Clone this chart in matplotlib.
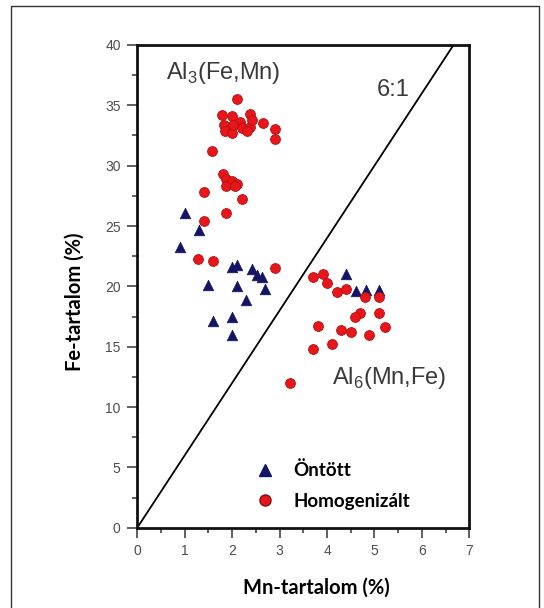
import matplotlib
matplotlib.use("Agg")
import matplotlib.pyplot as plt
from matplotlib.lines import Line2D
from matplotlib.ticker import MultipleLocator

# Öntött (as-cast) minták: Mn és Fe tartalom, %
ontott_mn = [1.01, 1.30, 0.90, 1.50, 1.99, 2.10, 2.41, 2.52, 2.62, 2.10,
             2.69, 2.29, 1.60, 2.00, 2.00, 4.41, 4.61, 4.82, 5.10]
ontott_fe = [26.1, 24.7, 23.3, 20.1, 21.6, 21.8, 21.4, 20.9, 20.8, 20.0,
             19.8, 18.9, 17.1, 17.5, 16.0, 21.0, 19.6, 19.7, 19.7]

# Homogenizált minták
homog_mn = [2.10, 1.78, 1.99, 2.38, 2.66, 2.90, 2.90, 1.83, 1.85, 1.99,
            2.17, 2.20, 2.38, 2.41, 2.02, 2.31, 1.57,
            1.80, 1.88, 1.99, 2.10, 1.87, 2.05, 2.20, 1.41, 1.88, 1.41,
            1.29, 1.60, 2.90,
            3.70, 3.91, 4.01, 4.20, 4.40, 4.80, 5.10, 4.70, 4.59, 5.10,
            3.80, 4.29, 4.50, 4.89, 5.22, 4.10, 3.70, 3.22]
homog_fe = [35.5, 34.2, 34.1, 34.3, 33.5, 33.0, 32.2, 33.4, 32.9, 32.7,
            33.6, 33.1, 33.2, 33.8, 33.4, 32.9, 31.2,
            29.3, 28.9, 28.7, 28.5, 28.3, 28.3, 27.2, 27.8, 26.1, 25.4,
            22.3, 22.1, 21.5,
            20.8, 21.0, 20.3, 19.5, 19.8, 19.1, 19.1, 17.8, 17.5, 17.8,
            16.7, 16.4, 16.2, 16.0, 16.6, 15.2, 14.8, 12.0]

# 6:1 Fe/Mn arány határvonala
ratio = 6.0
ratio_mn = [0.0, 40.0 / ratio]

TEXT_GRAY = "#3a3a3a"
TICK_GRAY = "#4d4d4d"
NAVY = "#141464"
RED = "#e8161a"

plt.rcParams["mathtext.fontset"] = "custom"
plt.rcParams["mathtext.rm"] = "Liberation Sans"

fig = plt.figure(figsize=(5.44, 6.08), dpi=100)
ax = fig.add_axes([0.2524, 0.1321, 0.6103, 0.7939])

ax.plot(ratio_mn, [ratio * v for v in ratio_mn], color="black", lw=1.3, zorder=2)

ax.scatter(ontott_mn, ontott_fe, marker="^", s=58, color=NAVY,
           edgecolors=NAVY, linewidths=0.5, zorder=3)
ax.scatter(homog_mn, homog_fe, marker="o", s=50, color=RED,
           edgecolors="#b01010", linewidths=0.6, zorder=4)

ax.set_xlim(0, 7)
ax.set_ylim(0, 40)
ax.xaxis.set_major_locator(MultipleLocator(1))
ax.xaxis.set_minor_locator(MultipleLocator(0.5))
ax.yaxis.set_major_locator(MultipleLocator(5))
ax.yaxis.set_minor_locator(MultipleLocator(2.5))
ax.tick_params(which="both", direction="out", color="#444444", width=1.2,
               top=False, right=False)
ax.tick_params(which="major", length=7, pad=5, labelsize=10,
               labelcolor=TICK_GRAY)
ax.tick_params(which="minor", length=3.5)
for lbl in ax.get_xticklabels() + ax.get_yticklabels():
    lbl.set_fontfamily("Liberation Sans")
for spine in ax.spines.values():
    spine.set_linewidth(2.0)
    spine.set_color("#111111")

ax.text(0.6, 37.7, r"Al$_\mathregular{3}$(Fe,Mn)", fontsize=17,
        family="Liberation Sans", color=TEXT_GRAY, va="center", ha="left")
ax.text(5.05, 36.3, "6:1", fontsize=17, family="Liberation Sans",
        color=TEXT_GRAY, va="center", ha="left")
ax.text(4.1, 12.4, r"Al$_\mathregular{6}$(Mn,Fe)", fontsize=17,
        family="Liberation Sans", color=TEXT_GRAY, va="center", ha="left")

handles = [
    Line2D([], [], ls="none", marker="^", ms=8.5, color=NAVY),
    Line2D([], [], ls="none", marker="o", ms=8, color=RED,
           markeredgecolor="#801010"),
]
ax.legend(handles, ["Öntött", "Homogenizált"], loc="upper left",
          bbox_to_anchor=(0.30, 0.172), frameon=False, handletextpad=0.9,
          labelspacing=0.72, handlelength=1.2,
          prop={"family": "Lato", "weight": "bold", "size": 13.5})

fig.text(0.582, 1 - 588 / 608, "Mn-tartalom (%)", family="Lato",
         weight="bold", fontsize=14.5, ha="center", va="center")
fig.text(75 / 544, 1 - 302 / 608, "Fe-tartalom (%)", family="Lato",
         weight="bold", fontsize=14.5, ha="center", va="center",
         rotation=90)

# keret a kép körül (alul nyitott)
frame_x = [11 / 544, 11 / 544, 539 / 544, 539 / 544]
frame_y = [0.0, 1 - 6 / 608, 1 - 6 / 608, 0.0]
fig.add_artist(Line2D(frame_x, frame_y, transform=fig.transFigure,
                      color="#333333", lw=1.0))

fig.savefig("out.png", dpi=100)
